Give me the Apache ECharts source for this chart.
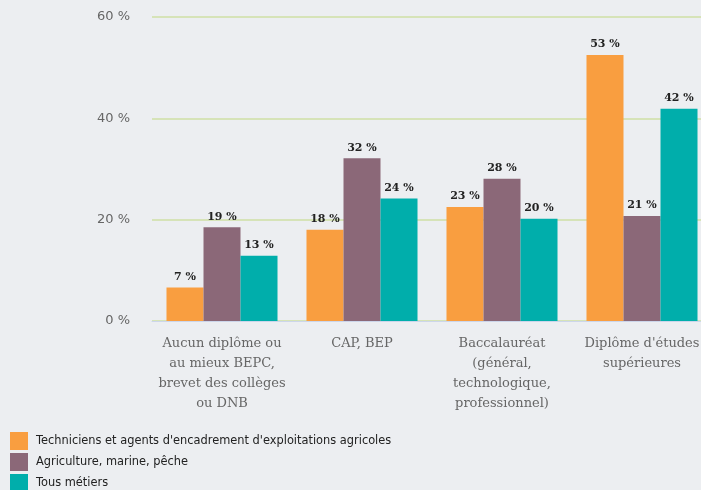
<!DOCTYPE html>
<html><head><meta charset="utf-8">
<script src="https://cdn.jsdelivr.net/npm/echarts@6/dist/echarts.min.js"></script>
<style>html,body{margin:0;padding:0;background:#eceef1;}#c{width:701px;height:490px;}</style>
</head><body><div id="c"></div>
<script>
const categories = ["Aucun diplôme ou au mieux BEPC, brevet des collèges ou DNB", "CAP, BEP", "Baccalauréat (général, technologique, professionnel)", "Diplôme d'études supérieures"];
const categoryLabels = ["Aucun diplôme ou\nau mieux BEPC,\nbrevet des collèges\nou DNB", "CAP, BEP", "Baccalauréat\n(général,\ntechnologique,\nprofessionnel)", "Diplôme d'études\nsupérieures"];
const seriesNames = ["Techniciens et agents d'encadrement d'exploitations agricoles", "Agriculture, marine, pêche", "Tous métiers"];
const techniciens = [6.6, 18, 22.5, 52.5];
const agriculture = [18.5, 32.1, 28.1, 20.7];
const tousMetiers = [12.9, 24.2, 20.2, 41.9];
const yTicks = [0, 20, 40, 60];
const colors = ["#f99e40", "#8b6878", "#00aeab"];

const chart = echarts.init(document.getElementById('c'));
const label = {show: true, position: 'top', distance: 5, fontFamily: 'DejaVu Serif', fontWeight: 'bold', fontSize: 11, color: '#222',
  formatter: p => Math.round(p.value) + ' %'};
const legends = seriesNames.map((n, i) => ({
  orient: 'vertical', left: 10, top: 432 + i * 21, padding: 0, itemWidth: 18, itemHeight: 18, icon: 'rect',
  textStyle: {fontFamily: 'DejaVu Sans', fontSize: 11.4, color: '#222', padding: [0, 0, 0, 3]},
  data: [n]
}));
chart.setOption({
  backgroundColor: '#eceef1',
  animation: false,
  color: colors,
  grid: {left: 152, width: 560, top: 17, bottom: 169, containLabel: false, outerBoundsMode: 'none'},
  legend: legends,
  xAxis: {type: 'category', data: categories,
    axisLine: {lineStyle: {color: '#ccd6eb'}}, axisTick: {show: false},
    axisLabel: {interval: 0, margin: 13, fontFamily: 'DejaVu Serif', fontSize: 13, color: '#666', lineHeight: 20,
      hideOverlap: false, formatter: (v, i) => categoryLabels[i]}},
  yAxis: {type: 'value', min: yTicks[0], max: yTicks[yTicks.length - 1], interval: 20,
    axisLine: {show: false}, axisTick: {show: false},
    splitLine: {lineStyle: {color: '#d6e3b8', width: 2}},
    axisLabel: {margin: 22, fontFamily: 'DejaVu Sans', fontSize: 13, color: '#666', formatter: v => v + ' %'}},
  series: [
    {name: seriesNames[0], type: 'bar', data: techniciens, barGap: '0%', barCategoryGap: '20.7%', label: label},
    {name: seriesNames[1], type: 'bar', data: agriculture, barGap: '0%', barCategoryGap: '20.7%', label: label},
    {name: seriesNames[2], type: 'bar', data: tousMetiers, barGap: '0%', barCategoryGap: '20.7%', label: label}
  ]
});
</script></body></html>
